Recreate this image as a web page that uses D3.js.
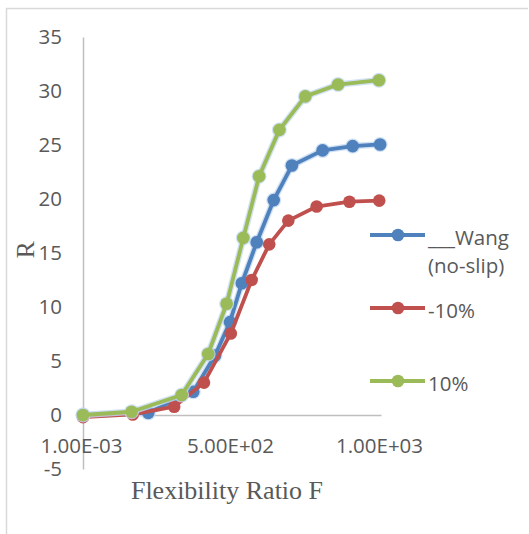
<!DOCTYPE html>
<html>
<head>
<meta charset="utf-8">
<script src="https://cdn.jsdelivr.net/npm/d3@7"></script>
<style>
  html, body { margin: 0; padding: 0; background: #fff; }
  svg { display: block; }
</style>
</head>
<body>
<div id="chart"></div>
<script>
// ---- data ----
const seriesNames = ["___Wang|(no-slip)", "-10%", "10%"];
const seriesColors = ["#4f81bd", "#c0504d", "#9bbb59"];

const wangF = [0, 219, 370, 443, 493, 533, 583, 640, 701, 804, 905, 997];
const wangR = [0, 0.2, 2.15, 5.5, 8.6, 12.2, 16.0, 19.9, 23.1, 24.5, 24.9, 25.05];

const minus10F = [0, 167, 306, 406, 496, 566, 625, 689, 784, 894, 994];
const minus10R = [-0.2, 0.05, 0.77, 3.0, 7.55, 12.5, 15.8, 18.0, 19.3, 19.75, 19.85];

const plus10F = [0, 163, 331, 420, 482, 538, 591, 659, 746, 856, 993];
const plus10R = [0, 0.3, 1.85, 5.65, 10.3, 16.4, 22.1, 26.4, 29.5, 30.6, 31.0];

const yTickValues = [-5, 0, 5, 10, 15, 20, 25, 30, 35];
const xTickValues = [0.001, 500, 1000];
const xTickLabels = ["1.00E-03", "5.00E+02", "1.00E+03"];

const xTitle = "Flexibility Ratio F";
const yTitle = "R";

// ---- build ----
const W = 529, H = 534;
const svg = d3.select("#chart").append("svg").attr("width", W).attr("height", H);

const x = d3.scaleLinear().domain([0, 1000]).range([83, 381]);
const y = d3.scaleLinear().domain([-5, 35]).range([469, 37]);

const tickFont = "'Open Sans', 'DejaVu Sans', sans-serif";
const tickColor = "#595959";
const axisColor = "#bfbfbf";

// outer frame (left and top)
svg.append("path")
  .attr("d", `M6.5,${H} V8.5 H${W - 1}`)
  .attr("fill", "none").attr("stroke", "#d9d9d9").attr("stroke-width", 1.5);

// y axis
const yAxis = svg.append("g")
  .attr("transform", `translate(${x(0)},0)`)
  .call(d3.axisLeft(y).tickValues(yTickValues).tickSize(0).tickSizeOuter(0).tickPadding(21)
    .tickFormat(d => String(d)));
yAxis.select(".domain").attr("stroke", axisColor).attr("stroke-width", 1.5);
yAxis.selectAll("text")
  .attr("font-family", tickFont).attr("font-size", 20.5).attr("fill", tickColor);

// x axis
const xAxis = svg.append("g")
  .attr("transform", `translate(0,${y(0)})`)
  .call(d3.axisBottom(x).tickValues(xTickValues).tickSize(0).tickSizeOuter(0).tickPadding(23)
    .tickFormat((d, i) => xTickLabels[i]));
xAxis.select(".domain").attr("stroke", axisColor).attr("stroke-width", 1.5);
xAxis.selectAll("text")
  .attr("font-family", tickFont).attr("font-size", 20.5).attr("fill", tickColor)
  .attr("dx", -2);

// axis titles
svg.append("text")
  .attr("x", 227).attr("y", 499)
  .attr("text-anchor", "middle")
  .attr("font-family", "'Liberation Serif', 'Times New Roman', serif")
  .attr("font-size", 26).attr("fill", "#595959")
  .text(xTitle);

svg.append("text")
  .attr("transform", `translate(34,${y(15.3)}) rotate(-90)`)
  .attr("text-anchor", "middle")
  .attr("font-family", "'Liberation Serif', 'Times New Roman', serif")
  .attr("font-size", 26).attr("fill", "#595959")
  .text(yTitle);

// series
const series = [
  { F: wangF, R: wangR, color: seriesColors[0], halo: true },
  { F: minus10F, R: minus10R, color: seriesColors[1], halo: false },
  { F: plus10F, R: plus10R, color: seriesColors[2], halo: true }
];

const line = d3.line().x(d => x(d[0])).y(d => y(d[1]));

series.forEach(s => {
  const pts = s.F.map((f, i) => [f, s.R[i]]);
  const g = svg.append("g");
  if (s.halo) {
    g.append("path").attr("d", line(pts)).attr("fill", "none")
      .attr("stroke", "#c6d9f1").attr("stroke-width", 6.5).attr("stroke-linejoin", "round").attr("opacity", 0.8);
    g.selectAll("circle.halo").data(pts).join("circle").attr("class", "halo")
      .attr("cx", d => x(d[0])).attr("cy", d => y(d[1])).attr("r", 7.5)
      .attr("fill", "#c6d9f1").attr("opacity", 0.8);
  }
  g.append("path").attr("d", line(pts)).attr("fill", "none")
    .attr("stroke", s.color).attr("stroke-width", 3.8).attr("stroke-linejoin", "round");
  g.selectAll("circle.pt").data(pts).join("circle").attr("class", "pt")
    .attr("cx", d => x(d[0])).attr("cy", d => y(d[1])).attr("r", 6.3)
    .attr("fill", s.color);
});

// legend
const legendItems = [
  { lines: seriesNames[0].split("|"), color: seriesColors[0], ly: 235 },
  { lines: seriesNames[1].split("|"), color: seriesColors[1], ly: 308 },
  { lines: seriesNames[2].split("|"), color: seriesColors[2], ly: 381 }
];
legendItems.forEach(it => {
  const g = svg.append("g");
  g.append("line").attr("x1", 370).attr("x2", 425).attr("y1", it.ly).attr("y2", it.ly)
    .attr("stroke", it.color).attr("stroke-width", 3.8);
  g.append("circle").attr("cx", 398).attr("cy", it.ly).attr("r", 6.3).attr("fill", it.color);
  it.lines.forEach((t, i) => {
    g.append("text").attr("x", 428).attr("y", it.ly + 2 + i * 28)
      .attr("dominant-baseline", "central")
      .attr("font-family", tickFont).attr("font-size", 20.5).attr("fill", tickColor)
      .text(t);
  });
});
</script>
</body>
</html>
